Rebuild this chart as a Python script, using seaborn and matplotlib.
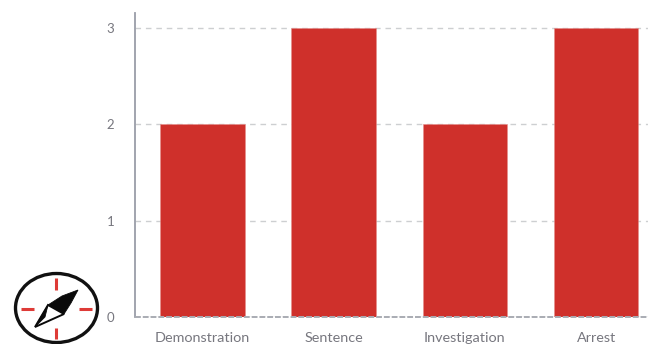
import matplotlib
matplotlib.use("Agg")
import matplotlib.pyplot as plt
from matplotlib.patches import Ellipse, Polygon
from matplotlib.lines import Line2D
from matplotlib.transforms import Affine2D
import pandas as pd
import seaborn as sns

categories = ["Demonstration", "Sentence", "Investigation", "Arrest"]
counts = [2, 3, 2, 3]
y_ticks = [0, 1, 2, 3]

W, H = 649, 344
BAR_RED = "#CF302B"
TEXT_GREY = "#77777F"

sns.set_theme(style="white")
plt.rcParams["font.family"] = ["Lato", "DejaVu Sans"]

fig = plt.figure(figsize=(W / 100, H / 100), dpi=100)
fig.patch.set_facecolor("white")
ax = fig.add_axes([135 / W, 1 - 317 / H, (648 - 135) / W, (317 - 13) / H])

df = pd.DataFrame({"event": categories, "count": counts})
sns.barplot(data=df, x="event", y="count", color=BAR_RED, saturation=1,
            width=0.645, ax=ax, zorder=3, edgecolor="#E58F8C", linewidth=0.4)

ax.set_xlim(-0.514, 3.395)
ax.set_ylim(0, 3.156)
ax.set_xlabel("")
ax.set_ylabel("")
ax.set_yticks(y_ticks)
ax.set_yticklabels([str(v) for v in y_ticks])
ax.tick_params(axis="x", length=0, labelsize=10.4, labelcolor=TEXT_GREY, pad=10.5)
ax.tick_params(axis="y", length=0, labelsize=9.5, labelcolor=TEXT_GREY, pad=15)

ax.yaxis.grid(True, color="#CDCFD1", linestyle=(0, (4, 3.5)), linewidth=1.0, zorder=1)
ax.set_axisbelow(True)
ax.set_facecolor("white")

for side in ("top", "right", "bottom"):
    ax.spines[side].set_visible(False)
ax.spines["left"].set_color("#9A9DA8")
ax.spines["left"].set_linewidth(1.3)
ax.axhline(0, color="#A9ACB3", linewidth=1.4, linestyle=(0, (3, 1)), zorder=4, clip_on=False)

# Compass emblem in the lower-left corner, laid out in pixels from the top-left.
to_fig = Affine2D().scale(1 / W, -1 / H).translate(0, 1) + fig.transFigure

fig.add_artist(Ellipse((56.5, 308), 82, 69, facecolor="white", edgecolor="#111111",
                       linewidth=2.4, transform=to_fig, clip_on=False))
for xs, ys in [((56, 56), (278, 290)), ((56, 56), (328, 339)),
               ((21, 34), (309, 309)), ((79, 92), (309, 309))]:
    fig.add_artist(Line2D(xs, ys, color="#DE3B37", linewidth=2.2, transform=to_fig,
                          solid_capstyle="butt"))

# Needle: solid northern half, outlined southern half.
fig.add_artist(Polygon([(78, 290), (62, 296), (48, 305), (64, 314), (71, 303)], closed=True,
                       facecolor="#0A0A0A", edgecolor="#0A0A0A", linewidth=0.6, transform=to_fig))
fig.add_artist(Polygon([(35, 327), (48, 305), (64, 314)], closed=True, facecolor="white",
                       edgecolor="#0A0A0A", linewidth=1.4, transform=to_fig))
fig.add_artist(Polygon([(35, 327), (48, 305), (45, 317)], closed=True, facecolor="#0A0A0A",
                       edgecolor="#0A0A0A", linewidth=0.6, transform=to_fig))

fig.savefig("out.png", dpi=100)
